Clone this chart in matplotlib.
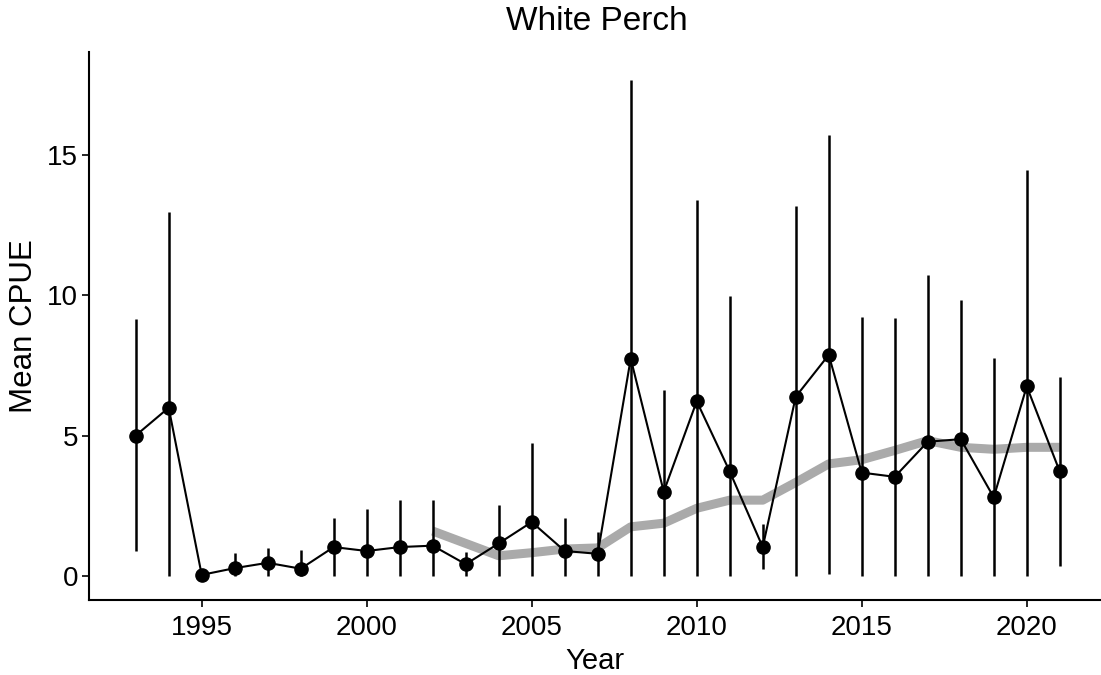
import matplotlib
matplotlib.use("Agg")
import matplotlib.pyplot as plt
import numpy as np

plt.rcParams['font.family'] = ['Liberation Sans', 'DejaVu Sans']

years = list(range(1993, 2022))
mean_cpue = [5.0, 5.99, 0.04, 0.28, 0.47, 0.26, 1.03, 0.89, 1.03, 1.08,
             0.42, 1.16, 1.92, 0.89, 0.79, 7.74, 3.0, 6.22, 3.72, 1.03,
             6.38, 7.87, 3.68, 3.53, 4.78, 4.87, 2.8, 6.75, 3.72]
err_low = [0.9, 0.0, 0.0, 0.0, 0.0, 0.0, 0.0, 0.0, 0.0, 0.0,
           0.0, 0.0, 0.0, 0.0, 0.0, 0.0, 0.0, 0.0, 0.0, 0.24,
           0.0, 0.07, 0.0, 0.0, 0.0, 0.0, 0.0, 0.0, 0.34]
err_high = [9.16, 12.96, 0.1, 0.83, 1.0, 0.93, 2.05, 2.37, 2.7, 2.7,
            0.86, 2.54, 4.74, 2.05, 1.55, 17.67, 6.62, 13.37, 9.95, 1.86,
            13.17, 15.7, 9.21, 9.18, 10.7, 9.84, 7.76, 14.45, 7.1]

trend_years = list(range(2002, 2022))
trend_vals = [1.6, 1.16, 0.72, 0.83, 0.96, 1.0, 1.75, 1.88, 2.41, 2.7,
              2.7, 3.33, 3.99, 4.14, 4.47, 4.82, 4.58, 4.51, 4.58, 4.58]

fig = plt.figure(figsize=(11.01, 6.75), dpi=100)
ax = fig.add_axes([89/1101, 1 - 600/675, (1101-89)/1101, (600-52)/675])

ax.plot(trend_years, trend_vals, color='#aaaaaa', lw=6.5, solid_capstyle='butt', zorder=1)
ax.vlines(years, err_low, err_high, color='black', lw=1.8, zorder=2)
ax.plot(years, mean_cpue, color='black', lw=1.5, marker='o', markersize=9.5,
        zorder=3)

ax.set_xlim(1991.585, 2022.25)
ax.set_ylim(-0.854, 18.65)
ax.set_xticks([1995, 2000, 2005, 2010, 2015, 2020])
ax.set_yticks([0, 5, 10, 15])
ax.tick_params(labelsize=20, length=5, width=1.2, colors='black', pad=3)
ax.tick_params(axis='x', pad=6)
for s in ['top', 'right']:
    ax.spines[s].set_visible(False)
for s in ['left', 'bottom']:
    ax.spines[s].set_linewidth(1.5)
ax.set_xlabel('Year', fontsize=21, labelpad=4)
ax.set_ylabel('Mean CPUE', fontsize=22.5, labelpad=6)
fig.text(597/1101, 1 - 22/675, 'White Perch', fontsize=24, ha='center', va='center')

fig.savefig('out.png', dpi=100)
